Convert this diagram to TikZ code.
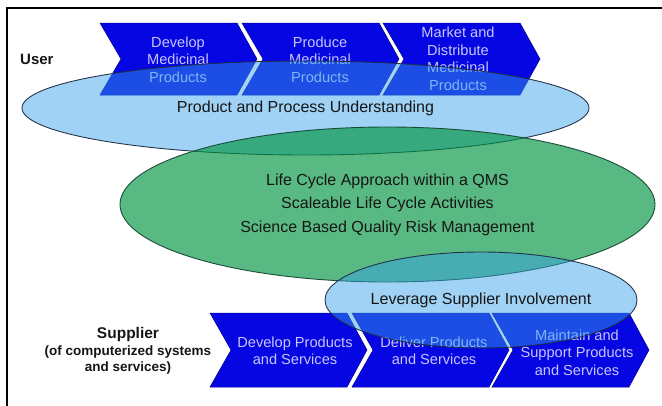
\documentclass[tikz,border=0pt]{standalone}
\usepackage{fontspec}
\setmainfont{Liberation Sans}
\usetikzlibrary{shapes.geometric}

\definecolor{chevfill}{RGB}{6,6,226}
\definecolor{chevedge}{RGB}{0,0,150}
\definecolor{chevtxt}{RGB}{198,198,255}
\definecolor{skyfill}{RGB}{53,160,234}
\definecolor{skyedge}{RGB}{30,45,70}
\definecolor{leaffill}{RGB}{0,148,63}
\definecolor{leafedge}{RGB}{20,70,50}
\definecolor{inktext}{RGB}{22,22,22}

\tikzset{
  % arrow-shaped process step, height given as argument
  pics/chev/.style={code={
    \filldraw[fill=chevfill, draw=chevedge, line width=0.5pt]
      (0,0) -- (137,0) -- (157,#1/2) -- (137,#1) -- (0,#1) -- (21,#1/2) -- cycle;
  }},
  chevtext/.style={align=center, text=chevtxt, inner sep=0pt,
    font=\fontsize{14.6}{17.5}\selectfont},
  sky/.style={ellipse, inner sep=0pt, fill=skyfill, fill opacity=0.47,
    draw=skyedge, draw opacity=0.95, line width=0.9pt, text opacity=1,
    text=inktext, font=\fontsize{16}{19}\selectfont},
  leaf/.style={ellipse, inner sep=0pt, fill=leaffill, fill opacity=0.65,
    draw=leafedge, draw opacity=0.95, line width=0.9pt, text opacity=1,
    text=inktext, align=center, font=\fontsize{16}{23.5}\selectfont},
  rolelabel/.style={text=inktext, inner sep=0pt, font=\bfseries\fontsize{15}{17}\selectfont},
}

\begin{document}
\begin{tikzpicture}[x=1pt, y=-1pt]
  \useasboundingbox (0,0) rectangle (662,405);

  % frame
  \draw[line width=2pt, line cap=rect] (7,405) -- (7,8) -- (662,8);

  % user process steps
  \pic at (100,23) {chev=72};
  \pic at (242,23) {chev=72};
  \pic at (383,23) {chev=72};
  \node[chevtext] (u1) at (178,59.5) {Develop\\Medicinal\\Products};
  \node[chevtext] (u2) at (320,59.5) {Produce\\Medicinal\\Products};
  \node[chevtext] (u3) at (458,59) {Market and\\Distribute\\Medicinal\\Products};

  \node[rolelabel, anchor=west] (user) at (20,59) {User};

  % product and process understanding
  \node[sky, minimum width=567, minimum height=94] (ppu) at (305.5,108)
    {Product and Process Understanding};

  % central quality principles
  \node[leaf, minimum width=535, minimum height=155] (qms) at (387.5,204.5)
    {Life Cycle Approach within a QMS\\Scaleable Life Cycle Activities\\Science Based Quality Risk Management};

  % supplier process steps
  \pic at (210,313) {chev=74};
  \pic at (352,313) {chev=74};
  \pic at (492,313) {chev=74};
  \node[chevtext] (s1) at (295,351) {Develop Products\\and Services};
  \node[chevtext] (s2) at (434,351) {Deliver Products\\and Services};
  \node[chevtext] (s3) at (577,352.5) {Maintain and\\Support Products\\and Services};

  \node[rolelabel, align=center, font=\bfseries\fontsize{13.5}{16.5}\selectfont] (supplier) at (128,351)
    {{\fontsize{15.5}{16.5}\selectfont Supplier}\\(of computerized systems\\and services)};

  % supplier involvement
  \node[sky, minimum width=312, minimum height=96] (lsi) at (481,300)
    {Leverage Supplier Involvement};
\end{tikzpicture}
\end{document}
